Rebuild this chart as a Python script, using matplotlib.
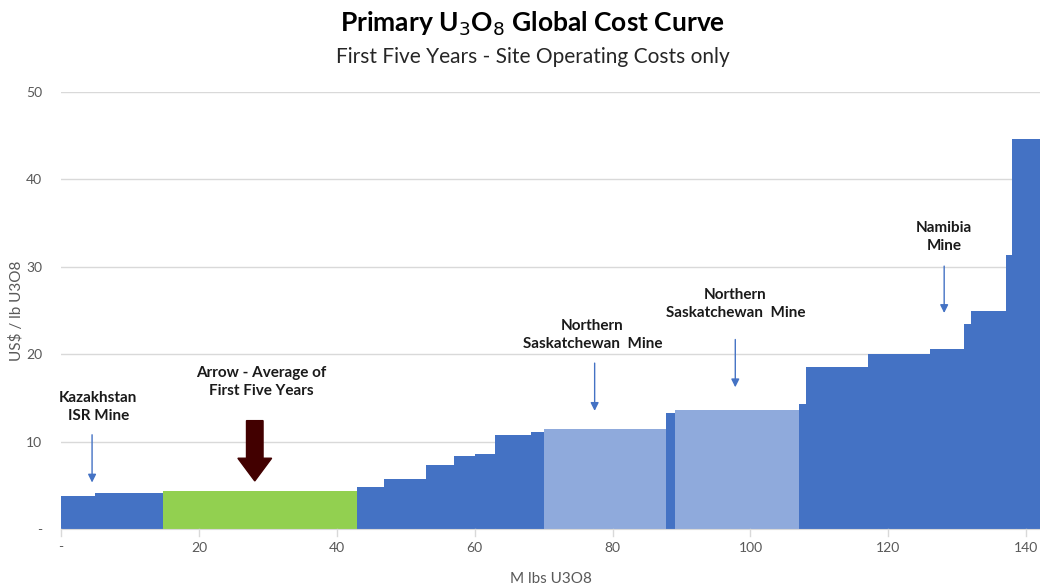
import matplotlib
matplotlib.use('Agg')
import matplotlib.pyplot as plt
import matplotlib.patches as patches

plt.rcParams['font.family'] = ['Lato', 'DejaVu Sans']

# step edges (M lbs U3O8) and site operating cost (US$/lb) per segment
edges = [0, 4.9, 14.8, 42.9, 46.8, 53.0, 57.0, 60.0, 62.9, 68.1, 70.0,
         87.8, 89.0, 107.0, 108.0, 117.0, 126.0, 131.0, 132.0, 137.0, 137.9, 142.0]
costs = [3.8, 4.1, 4.3, 4.8, 5.75, 7.3, 8.35, 8.6, 10.8, 11.1, 11.4,
         13.3, 13.6, 14.3, 18.5, 20.0, 20.6, 23.45, 24.9, 31.3, 44.6]
# segment kind: 'd' other mines, 'g' highlighted average, 'l' Saskatchewan mines
kinds = ['d', 'd', 'g', 'd', 'd', 'd', 'd', 'd', 'd', 'd', 'l',
         'd', 'l', 'd', 'd', 'd', 'd', 'd', 'd', 'd', 'd']

xticks = [0, 20, 40, 60, 80, 100, 120, 140]
xticklabels = ['-', '20', '40', '60', '80', '100', '120', '140']
yticks = [0, 10, 20, 30, 40, 50]
yticklabels = ['-', '10', '20', '30', '40', '50']

# annotations: label, text x, text y, arrow x, arrow start y, arrow end y
notes = [
    ('Kazakhstan\nISR Mine', 5.4, 14.0, 4.5, 11.1, 5.0),
    ('Northern\nSaskatchewan  Mine', 77.1, 22.2, 77.4, 19.3, 13.2),
    ('Northern\nSaskatchewan  Mine', 97.8, 25.7, 97.8, 22.0, 15.9),
    ('Namibia\nMine', 128.1, 33.4, 128.1, 30.4, 24.4),
]

colours = {'d': '#4472C4', 'g': '#92D050', 'l': '#8FAADC'}

fig = plt.figure(figsize=(10.4, 5.85), dpi=100)
ax = fig.add_axes([0.0587, 0.0957, 0.9413, 0.747])

widths = [edges[i + 1] - edges[i] for i in range(len(costs))]
ax.bar(edges[:-1], costs, width=widths, align='edge',
       color=[colours[k] for k in kinds], linewidth=0, zorder=2)

ax.set_xlim(0, 142)
ax.set_ylim(0, 50)
ax.set_xticks(xticks)
ax.set_xticklabels(xticklabels)
ax.set_yticks(yticks)
ax.set_yticklabels(yticklabels)
ax.tick_params(axis='both', colors='#595959', labelsize=10, length=0)
ax.tick_params(axis='y', pad=13.5)
ax.tick_params(axis='x', pad=9)
ax.grid(axis='y', color='#D9D9D9', linewidth=1, zorder=0)
for s in ['top', 'right', 'left']:
    ax.spines[s].set_visible(False)
ax.spines['bottom'].set_color('#D9D9D9')
for xt in xticks:
    ax.plot([xt, xt], [0, -0.8], color='#D9D9D9', lw=1, clip_on=False)

ax.set_xlabel('M lbs U3O8', fontsize=11, color='#595959', labelpad=13)
ax.set_ylabel('US$ / lb U3O8', fontsize=11, color='#595959', labelpad=2)

for label, tx, ty, axx, y0, y1 in notes:
    ax.text(tx, ty, label, ha='center', va='center', fontsize=11,
            fontweight='bold', color='#1A1A1A', linespacing=1.35)
    ax.annotate('', xy=(axx, y1), xytext=(axx, y0),
                arrowprops=dict(arrowstyle='-|>', color='#4472C4', lw=1,
                                mutation_scale=12))

ax.text(29, 16.8, 'Arrow - Average of\nFirst Five Years', ha='center', va='center',
        fontsize=11, fontweight='bold', color='#1A1A1A', linespacing=1.35)
ax.add_patch(patches.FancyArrow(28.1, 12.4, 0, -6.9, width=2.4, head_width=4.9,
                                head_length=2.6, length_includes_head=True,
                                color='#420000', zorder=3))

fig.text(0.512, 0.96, 'Primary U$_3$O$_8$ Global Cost Curve', ha='center', va='center',
         fontsize=19, fontweight='bold', color='#000000')
fig.text(0.512, 0.902, 'First Five Years - Site Operating Costs only', ha='center',
         va='center', fontsize=15, color='#262626')

fig.savefig('out.png', dpi=100)
